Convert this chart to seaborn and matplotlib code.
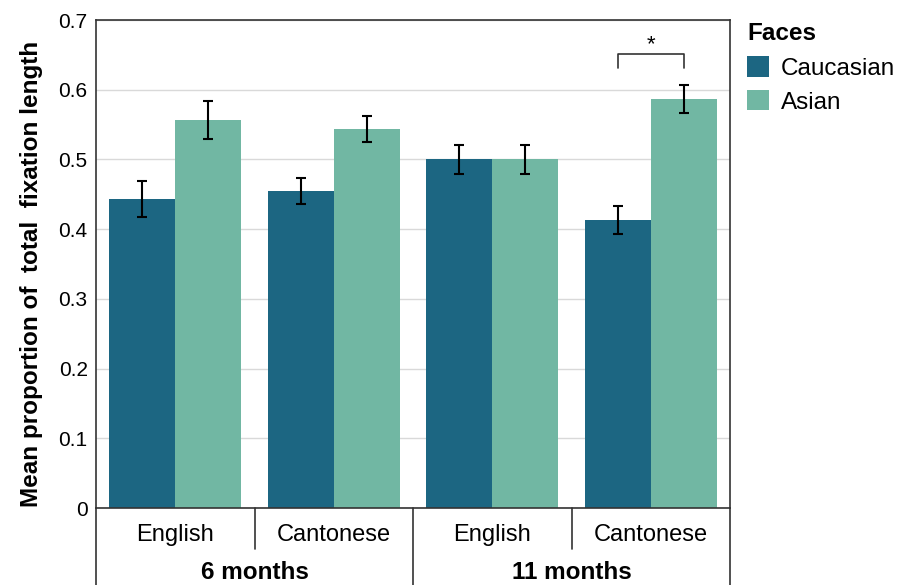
import matplotlib
matplotlib.use("Agg")
import matplotlib.pyplot as plt
import matplotlib.transforms as mtransforms
from matplotlib.patches import Patch
import seaborn as sns
import pandas as pd
import numpy as np

ages = ["6 months", "6 months", "11 months", "11 months"]
languages = ["English", "Cantonese", "English", "Cantonese"]
faces = ["Caucasian", "Asian"]
caucasian_mean = [0.443, 0.455, 0.500, 0.413]
asian_mean = [0.557, 0.544, 0.500, 0.587]
caucasian_err = [0.026, 0.019, 0.021, 0.020]
asian_err = [0.027, 0.019, 0.021, 0.020]
y_ticks = [0, 0.1, 0.2, 0.3, 0.4, 0.5, 0.6, 0.7]
y_tick_labels = ["0", "0.1", "0.2", "0.3", "0.4", "0.5", "0.6", "0.7"]

colors = {"Caucasian": "#1c6682", "Asian": "#71b7a3"}

sns.set_theme(style="white")
plt.rcParams["font.family"] = ["Liberation Sans", "DejaVu Sans"]
plt.rcParams.update({"text.color": "black", "axes.labelcolor": "black",
                     "xtick.color": "black", "ytick.color": "black"})

conds = [f"{a}|{l}|{i}" for i, (a, l) in enumerate(zip(ages, languages))]
df = pd.DataFrame({
    "cond": conds * 2,
    "Faces": ["Caucasian"] * 4 + ["Asian"] * 4,
    "mean": caucasian_mean + asian_mean,
    "err": caucasian_err + asian_err,
})

fig = plt.figure(figsize=(9.17, 5.85), dpi=100)
ax = fig.add_axes([0.1047, 0.1316, 0.6914, 0.8342])

sns.barplot(data=df, x="cond", y="mean", hue="Faces", hue_order=faces,
            order=conds, palette=colors, errorbar=None, width=0.835,
            saturation=1, linewidth=0, ax=ax, legend=False)

# error bars at the bar centres
for container, face in zip(ax.containers, faces):
    sub = df[df["Faces"] == face].set_index("cond").loc[conds]
    xs = [p.get_x() + p.get_width() / 2 for p in container.patches]
    ax.errorbar(xs, sub["mean"], yerr=sub["err"], fmt="none", ecolor="black",
                elinewidth=1.5, capsize=3.5, capthick=1.5, zorder=5)

ax.set_ylim(0, 0.7)
ax.set_xlim(-0.5, 3.5)
ax.set_yticks(y_ticks)
ax.set_yticklabels(y_tick_labels, fontsize=15)
ax.tick_params(axis="y", length=0, pad=6)
ax.set_xticks([])
ax.set_xlabel("")
ax.yaxis.grid(True, color="#d9d9d9", linewidth=1)
ax.set_axisbelow(True)
for s in ax.spines.values():
    s.set_color("#333333")
    s.set_linewidth(1.2)
ax.set_ylabel("Mean proportion of  total  fixation length", fontsize=17.5,
              fontweight="bold")
ax.yaxis.set_label_coords(-0.083, 0.48)

# two-level category axis below the plot
trans = mtransforms.blended_transform_factory(ax.transData, ax.transAxes)
for i, lang in enumerate(languages):
    ax.text(i, -0.055, lang, transform=trans, ha="center", va="center",
            fontsize=17)
for x in [0.5, 2.5]:
    ax.plot([x, x], [0, -0.083], transform=trans, color="#333333",
            lw=1.2, clip_on=False)
for x in [-0.5, 1.5, 3.5]:
    ax.plot([x, x], [0, -0.16], transform=trans, color="#333333",
            lw=1.2, clip_on=False)
group_names = list(dict.fromkeys(ages))
for g in group_names:
    idx = [i for i, a in enumerate(ages) if a == g]
    ax.text(np.mean(idx), -0.133, g, transform=trans, ha="center",
            va="center", fontsize=17.5, fontweight="bold")

# significance bracket over the 11-month Cantonese pair
last = len(conds) - 1
x0 = ax.containers[0].patches[last]
x1 = ax.containers[1].patches[last]
xa = x0.get_x() + x0.get_width() / 2
xb = x1.get_x() + x1.get_width() / 2
ax.plot([xa, xa, xb, xb], [0.631, 0.651, 0.651, 0.631], color="#333333",
        lw=1.2, clip_on=False)
ax.text((xa + xb) / 2, 0.650, "*", ha="center", va="bottom", fontsize=16)

handles = [Patch(facecolor=colors[f], edgecolor="none", label=f) for f in faces]
leg = ax.legend(handles=handles, title="Faces", loc="upper left",
                bbox_to_anchor=(1.0, 1.03), frameon=False, fontsize=17.5,
                title_fontproperties={"weight": "bold", "size": 17.5},
                handlelength=0.9, handleheight=0.9, handletextpad=0.5,
                labelspacing=0.42, borderaxespad=0.3)
leg._legend_box.align = "left"
leg._legend_box.sep = 8

fig.savefig("out.png", dpi=100)
